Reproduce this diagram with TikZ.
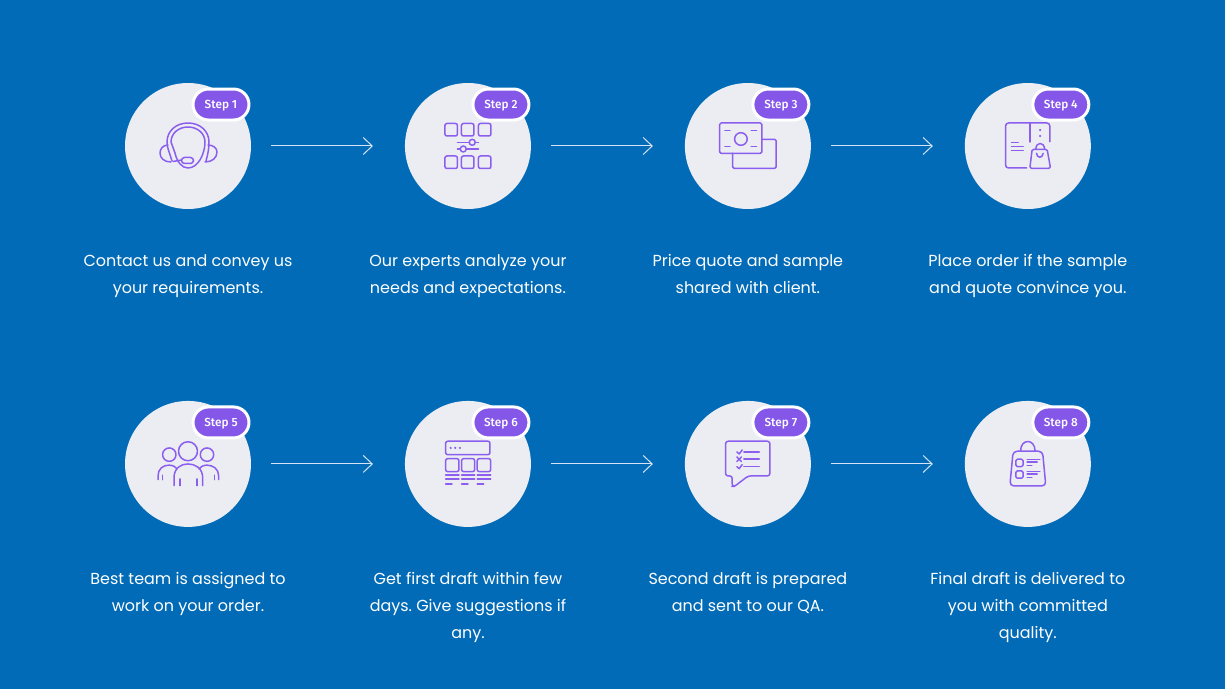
\documentclass[tikz,border=0pt]{standalone}
\usepackage{fontspec}
\setmainfont{Poppins}
\newfontfamily\badgefont{Fira Sans Medium}
\usetikzlibrary{positioning,arrows.meta,shapes.misc}

\definecolor{bgblue}{HTML}{016BB7}
\definecolor{circfill}{HTML}{EBEDF3}
\definecolor{badgepurple}{HTML}{8557E8}
\definecolor{iconpurple}{HTML}{8B5EEE}
\definecolor{arrowtint}{HTML}{D5E3F4}

\tikzset{
  stepcirc/.style={circle, fill=circfill, minimum size=2.52cm, inner sep=0pt, outer sep=0pt},
  stepbadge/.style={rounded rectangle, fill=badgepurple, draw=white, line width=.06cm, minimum width=1.12cm, minimum height=.62cm, inner sep=0pt, text=white, text height=4.4pt, text depth=0pt, font=\badgefont\fontsize{6.7}{7}\selectfont},
  stepnote/.style={text=white, align=center, inner sep=0pt, outer sep=0pt, execute at begin node=\strut, font=\frenchspacing\fontsize{9.09}{15.35}\selectfont},
  steparrow/.style={draw=arrowtint, line width=.02cm, -{Straight Barb[length=.18cm, width=.34cm]}, shorten <=.4cm, shorten >=.64cm},
  iconline/.style={draw=iconpurple, line width=.03cm, line join=round, line cap=round},
  icondot/.style={fill=iconpurple},
  iconheadset/.pic={
    \draw[iconline] (-16,15) .. controls (-18,8) and (-21,2) .. (-21,-4) .. controls (-21,-15) and (-12,-23) .. (0,-23) .. controls (12,-23) and (21,-15) .. (21,-4) .. controls (21,2) and (20,8) .. (18,15);
    \draw[iconline] (-17,-4) .. controls (-17,-13) and (-9,-19) .. (0,-19) .. controls (9,-19) and (17,-13) .. (17,-4) .. controls (17,8) and (10,22) .. (0,22) .. controls (-6,22) and (-11,16) .. (-13,7) -- cycle;
    \draw[iconline] (-20,-1) .. controls (-25,-1) and (-28,3) .. (-28,7) .. controls (-28,12) and (-24,16) .. (-17,16);
    \draw[iconline] (20,-1) .. controls (25,-1) and (29,2) .. (29,6) .. controls (29,12) and (24,16) .. (17,16);
    \draw[iconline, fill=circfill, rounded corners=.06cm] (-6.5,11.5) rectangle (5.5,17.5);
    \draw[iconline] (-6.5,14) -- (-15,15.5);
  },
  iconsliders/.pic={
    \foreach \a/\b in {-23/-10.5, -6.5/6, 10.5/23} {
      \draw[iconline, rounded corners=.04cm] (\a,-22.5) rectangle (\b,-10);
      \draw[iconline, rounded corners=.04cm] (\a,10) rectangle (\b,22.5);
    }
    \draw[iconline] (-10.5,-3.7) -- (10.5,-3.7);
    \draw[iconline] (-10.5,3) -- (10.5,3);
    \draw[iconline, fill=circfill] (4.3,-3.7) circle (3);
    \draw[iconline, fill=circfill] (-4.7,3) circle (3);
  },
  iconmoney/.pic={
    \draw[iconline, rounded corners=.03cm] (-28.3,-23) rectangle (14,7.3);
    \draw[iconline, rounded corners=.03cm] (14,-6.7) -- (28.3,-6.7) -- (28.3,22.3) -- (-15.3,22.3) -- (-15.3,7.3);
    \draw[iconline] (-7,-7) circle (6.3);
    \foreach \a/\b in {-23/-18, 3.3/8.7} {
      \draw[iconline] (\a,-15.3) -- (\b,-15.3);
      \draw[iconline] (\a,0.3) -- (\b,0.3);
    }
  },
  iconorder/.pic={
    \draw[iconline, rounded corners=.06cm] (-1.3,22) -- (-22.3,22) -- (-22.3,-23) -- (22,-23) -- (22,-4.3);
    \draw[iconline] (2,-23) -- (2,-4);
    \fill[icondot] (12.3,-16) circle (1.2) (12.3,-10) circle (1.2);
    \draw[iconline] (-16.3,-3.7) -- (-9.7,-3.7);
    \draw[iconline] (-16.3,0.7) -- (-4.7,0.7);
    \draw[iconline] (-16.3,4.7) -- (-4.7,4.7);
    \draw[iconline, rounded corners=.03cm] (4.3,3.3) -- (19.3,3.3) -- (22.7,22.3) -- (2,22.3) -- cycle;
    \draw[iconline] (8,3.3) .. controls (8,-4.5) and (16.7,-4.5) .. (16.7,3.3);
    \draw[iconline] (8.7,7.3) .. controls (9,12.5) and (15,12.5) .. (15.3,7.3);
  },
  iconteam/.pic={
    \draw[iconline] (0,-12.7) circle (9.5);
    \draw[iconline] (-18.7,-9.3) circle (6.7);
    \draw[iconline] (19,-9.3) circle (6.7);
    \draw[iconline] (-14,21.7) -- (-14,14) .. controls (-14,4) and (-7,0) .. (0,0) .. controls (7,0) and (14.7,4) .. (14.7,14) -- (14.7,21.7);
    \draw[iconline] (-8,15) -- (-8,21.7);
    \draw[iconline] (9,15) -- (9,21.7);
    \draw[iconline] (-30,15.7) -- (-30,12) .. controls (-30,5) and (-25,1.2) .. (-19,1.2) .. controls (-15,1.2) and (-12.5,3) .. (-10.7,5);
    \draw[iconline] (-25.7,11.3) -- (-25.7,15.7);
    \draw[iconline] (30.7,15.7) -- (30.7,12) .. controls (30.7,5) and (25,1.2) .. (19,1.2) .. controls (15,1.2) and (12.5,3) .. (11,5);
    \draw[iconline] (26.3,11.3) -- (26.3,15.7);
  },
  icondraft/.pic={
    \draw[iconline, rounded corners=.04cm] (-22.3,-22.7) rectangle (22,-9.3);
    \fill[icondot] (-17.3,-16) circle (1.2) (-12.7,-16) circle (1.2) (-8,-16) circle (1.2);
    \foreach \a/\b/\c in {-22.3/-9/-16, -6.3/6.7/0, 9.3/22.7/15.7} {
      \draw[iconline, rounded corners=.04cm] (\a,-5.3) rectangle (\b,7.7);
      \draw[iconline] (\a,11.3) -- (\b,11.3);
      \draw[iconline] (\a,15.3) -- (\b,15.3);
      \draw[iconline] (\a,20) -- (\c,20);
    }
  },
  iconchat/.pic={
    \draw[iconline, rounded corners=.05cm] (0.3,12) -- (22,12) -- (22,-22.7) -- (-22.3,-22.7) -- (-22.3,12) -- (-15.7,12) -- (-15.7,22.5) -- (-13.5,22.5) -- cycle;
    \draw[iconline] (-11,-12) -- (-8.7,-10) -- (-5.7,-14);
    \draw[iconline] (-11,2.7) -- (-8.7,4.7) -- (-5.7,0.7);
    \draw[iconline] (-11,-7) -- (-6.5,-2.4) (-11,-2.4) -- (-6.5,-7);
    \foreach \h in {-12,-4.7,2.7} {\draw[iconline] (-4,\h) -- (11.3,\h);}
  },
  iconbag/.pic={
    \draw[iconline, rounded corners=.08cm] (-14.7,-12.7) -- (14.7,-12.7) -- (18,22) -- (-18,22) -- cycle;
    \draw[iconline] (-7.3,-12.7) .. controls (-7.3,-25.7) and (7.3,-25.7) .. (7.3,-12.7);
    \foreach \h in {-4.7,7} {
      \draw[iconline, rounded corners=.03cm] (-12,\h) rectangle (-4.7,\h+7.3);
      \draw[iconline] (-0.7,\h+0.4) -- (12,\h+0.4);
      \draw[iconline] (-0.7,\h+3) -- (9.3,\h+3);
      \draw[iconline] (-0.7,\h+6.5) -- (4,\h+6.5);
    }
  }
}

\begin{document}
\begin{tikzpicture}[x=.02cm, y=-.02cm, node distance=3.08cm]
    \fill[bgblue] (0,0) rectangle (1225,689);
    \useasboundingbox (0,0) rectangle (1225,689);

    \node[stepcirc] (circ1) at (188,146) {};
    \node[stepcirc, right=of circ1] (circ2) {};
    \node[stepcirc, right=of circ2] (circ3) {};
    \node[stepcirc, right=of circ3] (circ4) {};
    \node[stepcirc, below=3.84cm of circ1] (circ5) {};
    \node[stepcirc, right=of circ5] (circ6) {};
    \node[stepcirc, right=of circ6] (circ7) {};
    \node[stepcirc, right=of circ7] (circ8) {};

    % badges
    \foreach \n in {1,...,8} {
        \node[stepbadge] (badge\n) at ([xshift=.66cm, yshift=.83cm]circ\n) {Step \n};
    }

    \pic at (circ1) {iconheadset};
    \pic at (circ2) {iconsliders};
    \pic at (circ3) {iconmoney};
    \pic at (circ4) {iconorder};
    \pic at (circ5) {iconteam};
    \pic at (circ6) {icondraft};
    \pic at (circ7) {iconchat};
    \pic at (circ8) {iconbag};

    \draw[steparrow] (circ1) -- (circ2);
    \draw[steparrow] (circ2) -- (circ3);
    \draw[steparrow] (circ3) -- (circ4);
    \draw[steparrow] (circ5) -- (circ6);
    \draw[steparrow] (circ6) -- (circ7);
    \draw[steparrow] (circ7) -- (circ8);

    \node[stepnote, below=.91cm of circ1] (note1) {Contact us and convey us\\your requirements.};
    \node[stepnote, below=.91cm of circ2] (note2) {Our experts analyze your\\needs and expectations.};
    \node[stepnote, below=.91cm of circ3] (note3) {Price quote and sample\\shared with client.};
    \node[stepnote, below=.91cm of circ4] (note4) {Place order if the sample\\and quote convince you.};
    \node[stepnote, below=.9cm of circ5] (note5) {Best team is assigned to\\work on your order.};
    \node[stepnote, below=.9cm of circ6] (note6) {Get first draft within few\\days. Give suggestions if\\any.};
    \node[stepnote, below=.9cm of circ7] (note7) {Second draft is prepared\\and sent to our QA.};
    \node[stepnote, below=.9cm of circ8] (note8) {Final draft is delivered to\\you with committed\\quality.};
\end{tikzpicture}
\end{document}
